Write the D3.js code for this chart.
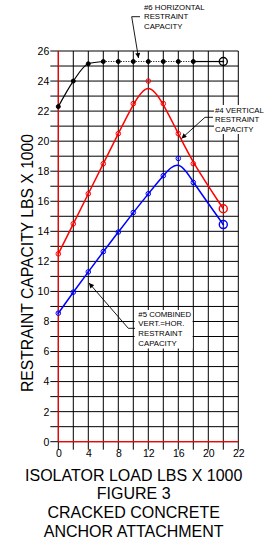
<!DOCTYPE html>
<html>
<head>
<meta charset="utf-8">
<script src="https://cdnjs.cloudflare.com/ajax/libs/d3/7.8.5/d3.min.js"></script>
<style>
  body { margin: 0; background: #fff; }
  text { font-family: "Liberation Sans", Arial, sans-serif; }
</style>
</head>
<body>
<script>
var w = 269;
var h = 542;

// isolator load (x 1000 lbs) where points were plotted
var loads = [0, 2, 4, 6, 8, 10, 12, 14, 16, 18, 22];

// restraint capacity (x 1000 lbs)
var horizontal = [22.3, 24.0, 25.15, 25.3, 25.3, 25.3, 25.3, 25.3, 25.3, 25.3, 25.3];
var vertical = [12.5, 14.5, 16.5, 18.5, 20.5, 22.5, 24.0, 22.5, 20.5, 18.5, 15.5];
var combined = [8.55, 9.95, 11.3, 12.65, 13.95, 15.25, 16.5, 17.7, 18.85, 17.25, 14.45];

// tick labels (the last one reads 22 on the original)
var xTicks = [0, 4, 8, 12, 16, 20, 24];
var xTickLabels = ["0", "4", "8", "12", "16", "20", "22"];
var yTicks = [0, 2, 4, 6, 8, 10, 12, 14, 16, 18, 20, 22, 24, 26];

var titleLines = ["FIGURE 3", "CRACKED CONCRETE", "ANCHOR ATTACHMENT"];

var svg = d3.select("body").append("svg")
  .attr("width", w)
  .attr("height", h);

var x = d3.scaleLinear().domain([0, 24]).range([58.3, 238.3]);
var y = d3.scaleLinear().domain([0, 26]).range([441.7, 51]);

// arrow head
svg.append("defs").append("marker")
  .attr("id", "arrow")
  .attr("viewBox", "0 0 10 10")
  .attr("refX", 10).attr("refY", 5)
  .attr("markerWidth", 7).attr("markerHeight", 5)
  .attr("markerUnits", "userSpaceOnUse")
  .attr("orient", "auto")
  .append("path")
  .attr("d", "M0,0L10,5L0,10Z")
  .attr("fill", "#000");

// grid: horizontal lines every 1, vertical every 2
var grid = svg.append("g");
grid.selectAll(".hl")
  .data(d3.range(0, 27))
  .enter().append("line")
  .attr("x1", x(0) - 8).attr("x2", x(24))
  .attr("y1", function(d) { return y(d); })
  .attr("y2", function(d) { return y(d); })
  .attr("stroke", "#000")
  .attr("stroke-width", 1);

grid.selectAll(".vl")
  .data(d3.range(0, 25, 2))
  .enter().append("line")
  .attr("x1", function(d) { return x(d); })
  .attr("x2", function(d) { return x(d); })
  .attr("y1", y(26)).attr("y2", y(0) + 8)
  .attr("stroke", "#000")
  .attr("stroke-width", 1);

// red axis lines
grid.append("line")
  .attr("x1", x(0)).attr("x2", x(0))
  .attr("y1", y(26)).attr("y2", y(0))
  .attr("stroke", "#ff0000").attr("stroke-width", 1.2);
grid.append("line")
  .attr("x1", x(0)).attr("x2", x(24))
  .attr("y1", y(0)).attr("y2", y(0))
  .attr("stroke", "#ff0000").attr("stroke-width", 1.2);

// axes labels via d3 axes (lines hidden, text only)
var yAxis = d3.axisLeft(y).tickValues(yTicks).tickSize(0).tickPadding(0);
var gy = svg.append("g")
  .attr("transform", "translate(" + (x(0) - 9) + ",0)")
  .call(yAxis);
gy.select(".domain").remove();
gy.selectAll("text").style("font-size", "10.5px").attr("fill", "#000")
  .style("font-family", "Liberation Sans, Arial, sans-serif");

var xAxis = d3.axisBottom(x).tickValues(xTicks).tickSize(0).tickPadding(0)
  .tickFormat(function(d, i) { return xTickLabels[i]; });
var gx = svg.append("g")
  .attr("transform", "translate(0," + (y(0) + 8) + ")")
  .call(xAxis);
gx.select(".domain").remove();
gx.selectAll("text").style("font-size", "10.5px").attr("fill", "#000")
  .style("font-family", "Liberation Sans, Arial, sans-serif");

// curves
function pts(vals) {
  return vals.map(function(v, i) { return [loads[i], v]; });
}

var lineBasis = d3.line()
  .x(function(d) { return x(d[0]); })
  .y(function(d) { return y(d[1]); })
  .curve(d3.curveBasis);
var lineMono = d3.line()
  .x(function(d) { return x(d[0]); })
  .y(function(d) { return y(d[1]); })
  .curve(d3.curveMonotoneX);
var lineStraight = d3.line()
  .x(function(d) { return x(d[0]); })
  .y(function(d) { return y(d[1]); });

var hp = pts(horizontal);
svg.append("path").attr("d", lineMono(hp.slice(0, 4)))
  .attr("fill", "none").attr("stroke", "#000").attr("stroke-width", 1.2);
svg.append("path").attr("d", lineStraight(hp.slice(3, 10)))
  .attr("fill", "none").attr("stroke", "#000").attr("stroke-width", 1.2)
  .attr("stroke-dasharray", "1,1.5");
svg.append("path").attr("d", lineStraight(hp.slice(9)))
  .attr("fill", "none").attr("stroke", "#000").attr("stroke-width", 1.2);

svg.append("path").attr("d", lineBasis(pts(vertical)))
  .attr("fill", "none").attr("stroke", "#ff0000").attr("stroke-width", 1.5);
svg.append("path").attr("d", lineBasis(pts(combined)))
  .attr("fill", "none").attr("stroke", "#0000ff").attr("stroke-width", 1.5);

// point markers
function drawMarkers(vals, color, solid) {
  var g = svg.append("g");
  var data = pts(vals);
  var last = data.length - 1;
  g.selectAll(".ring")
    .data(data)
    .enter().append("circle")
    .attr("cx", function(d) { return x(d[0]); })
    .attr("cy", function(d) { return y(d[1]); })
    .attr("r", function(d, i) { return i == last ? 4 : (solid ? 2 : 2.3); })
    .attr("fill", function(d, i) { return (solid && i != last) ? color : "none"; })
    .attr("stroke", color)
    .attr("stroke-width", function(d, i) { return i == last ? 1.4 : 1; });
  g.selectAll(".dot")
    .data(data)
    .enter().append("circle")
    .attr("cx", function(d) { return x(d[0]); })
    .attr("cy", function(d) { return y(d[1]); })
    .attr("r", 0.9)
    .attr("fill", color);
}
drawMarkers(horizontal, "#000", true);
drawMarkers(vertical, "#ff0000", false);
drawMarkers(combined, "#0000ff", false);

// annotations
function note(lines, tx, ty, fill) {
  var g = svg.append("g");
  if (fill) {
    g.append("rect")
      .attr("x", fill[0]).attr("y", fill[1])
      .attr("width", fill[2]).attr("height", fill[3])
      .attr("fill", "#fff");
  }
  g.selectAll("text")
    .data(lines)
    .enter().append("text")
    .attr("x", tx)
    .attr("y", function(d, i) { return ty + i * 9.6; })
    .style("font-size", "7.8px")
    .attr("fill", "#000")
    .text(function(d) { return d; });
}
function leader(pointsArr) {
  svg.append("path")
    .attr("d", d3.line()(pointsArr))
    .attr("fill", "none")
    .attr("stroke", "#000")
    .attr("stroke-width", 0.9)
    .attr("marker-end", "url(#arrow)");
}

note(["#6 HORIZONTAL", "RESTRAINT", "CAPACITY"], 144, 9.5);
leader([[140, 16.7], [131.7, 16.7], [138.5, 58]]);

note(["#4 VERTICAL", "RESTRAINT", "CAPACITY"], 215, 112.7, [214, 105, 55, 29]);
leader([[213, 117.3], [205, 117.3], [181.5, 138.5]]);

note(["#5 COMBINED", "VERT.=HOR.", "RESTRAINT", "CAPACITY"], 138.3, 316.7, [134.6, 310, 58, 38.5]);
leader([[135, 328.3], [128.3, 328.3], [89, 283]]);

// axis titles
svg.append("text")
  .attr("transform", "translate(33," + 263 + ") rotate(-90)")
  .attr("text-anchor", "middle")
  .style("font-size", "15.7px")
  .attr("fill", "#000")
  .text("RESTRAINT CAPACITY LBS X 1000");

svg.append("text")
  .attr("x", 133.7).attr("y", 480.7)
  .attr("text-anchor", "middle")
  .style("font-size", "16px")
  .attr("fill", "#000")
  .text("ISOLATOR LOAD LBS X 1000");

svg.selectAll(".title")
  .data(titleLines)
  .enter().append("text")
  .attr("x", 133.7)
  .attr("y", function(d, i) { return 499.3 + i * 19; })
  .attr("text-anchor", "middle")
  .style("font-size", "16px")
  .attr("fill", "#000")
  .text(function(d) { return d; });
</script>
</body>
</html>
